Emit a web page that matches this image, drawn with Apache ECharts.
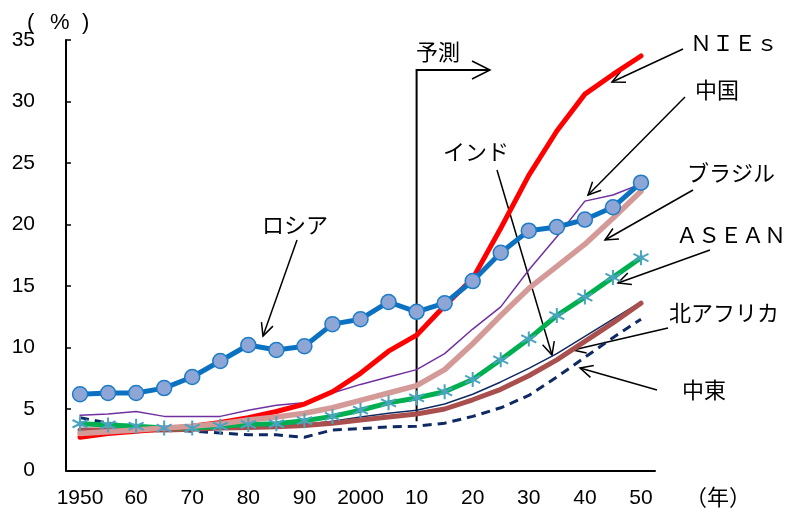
<!DOCTYPE html>
<html>
<head>
<meta charset="utf-8">
<script src="https://cdn.jsdelivr.net/npm/echarts@6/dist/echarts.min.js"></script>
<style>
  html, body { margin: 0; padding: 0; background: #fff; }
  #chart { width: 790px; height: 509px; }
</style>
</head>
<body>
<div id="chart"></div>
<script>
// Years on the category axis (5-year steps)
const years = ['1950','1955','1960','1965','1970','1975','1980','1985','1990','1995',
               '2000','2005','2010','2015','2020','2025','2030','2035','2040','2045','2050'];
// Short labels shown under every other year
const tickLabels = {'1950':'1950','1960':'60','1970':'70','1980':'80','1990':'90','2000':'2000',
                    '2010':'10','2020':'20','2030':'30','2040':'40','2050':'50'};

// Share of population aged 65+ (%)
const russia  = [6.2, 6.3, 6.3, 6.7, 7.6, 8.9, 10.2, 9.8, 10.1, 11.9, 12.3, 13.7, 12.9, 13.6, 15.4, 17.7, 19.5, 19.8, 20.4, 21.4, 23.4];
const nies    = [2.7, 3.0, 3.2, 3.4, 3.6, 3.9, 4.3, 4.8, 5.4, 6.4, 7.9, 9.7, 11.0, 13.4, 15.6, 19.7, 24.0, 27.6, 30.6, 32.2, 33.7];
const china   = [4.5, 4.6, 4.8, 4.4, 4.4, 4.4, 4.9, 5.3, 5.5, 6.3, 7.0, 7.6, 8.2, 9.5, 11.5, 13.3, 16.3, 19.0, 21.9, 22.4, 23.3];
const brazil  = [3.0, 3.15, 3.3, 3.45, 3.6, 3.8, 4.1, 4.35, 4.65, 5.1, 5.7, 6.3, 6.9, 8.2, 10.3, 12.6, 14.8, 16.6, 18.4, 20.5, 22.7];
const asean   = [3.8, 3.7, 3.6, 3.45, 3.45, 3.6, 3.75, 3.8, 4.05, 4.4, 4.9, 5.5, 5.9, 6.4, 7.4, 9.0, 10.7, 12.6, 14.1, 15.7, 17.3];
const india   = [3.4, 3.4, 3.3, 3.25, 3.3, 3.4, 3.5, 3.6, 3.75, 4.0, 4.35, 4.65, 4.9, 5.4, 6.2, 7.2, 8.3, 9.5, 10.9, 12.3, 13.7];
const nAfrica = [3.3, 3.3, 3.3, 3.3, 3.35, 3.45, 3.5, 3.55, 3.65, 3.85, 4.1, 4.35, 4.6, 5.0, 5.75, 6.6, 7.7, 9.0, 10.5, 12.0, 13.6];
const mideast = [4.3, 3.85, 3.55, 3.3, 3.2, 3.05, 2.9, 2.9, 2.7, 3.3, 3.4, 3.55, 3.6, 3.85, 4.4, 5.1, 6.1, 7.6, 9.2, 10.8, 12.3];

const chart = echarts.init(document.getElementById('chart'), null, { renderer: 'canvas' });

const NUM_FONT = '"Liberation Sans", Arial, sans-serif';
const JP_FONT = '"Noto Sans CJK JP", sans-serif';

// six-armed asterisk marker
const asterisk = 'path://M0,-10L0,10M-8.66,-5L8.66,5M-8.66,5L8.66,-5';

function line(name, data, color, width, extra) {
  return Object.assign({
    name, type: 'line', data,
    symbol: 'none',
    lineStyle: { color, width, cap: 'round', join: 'round' },
    itemStyle: { color },
    emphasis: { disabled: true },
    silent: true
  }, extra || {});
}

chart.setOption({
  animation: false,
  backgroundColor: '#fff',
  grid: { left: 66, right: 135, top: 40, bottom: 38.5, containLabel: false },
  xAxis: {
    type: 'category',
    data: years,
    boundaryGap: true,
    axisLine: { lineStyle: { color: '#000', width: 2 } },
    axisTick: { show: false },
    axisLabel: {
      interval: 1,
      margin: 17,
      color: '#000',
      fontSize: 21,
      fontFamily: NUM_FONT,
      formatter: v => tickLabels[v] || ''
    },
    splitLine: { show: false }
  },
  yAxis: {
    type: 'value',
    min: 0, max: 35, interval: 5,
    axisLine: { show: true, lineStyle: { color: '#000', width: 2 } },
    axisTick: { show: true, inside: true, length: 5, lineStyle: { color: '#000', width: 1.5 } },
    axisLabel: { color: '#000', fontSize: 21, fontFamily: NUM_FONT, margin: 31 },
    splitLine: { show: false }
  },
  series: [
    line('中東', mideast, '#0F2A63', 3, { lineStyle: { color: '#0F2A63', width: 3, type: [9, 6] } }),
    line('インド', india, '#0F2A63', 1.5),
    line('北アフリカ', nAfrica, '#A94F4D', 5),
    line('ASEAN', asean, '#00B050', 5, {
      symbol: asterisk, symbolSize: 15, showSymbol: true,
      itemStyle: { color: 'rgba(0,0,0,0)', borderColor: '#4BA3C3', borderWidth: 2 }
    }),
    line('中国', china, '#7030A0', 1.5),
    line('NIEs', nies, '#FF0000', 5),
    line('ブラジル', brazil, '#D49A97', 5.5),
    line('ロシア', russia, '#0B72C2', 5, {
      symbol: 'circle', symbolSize: 15, showSymbol: true,
      itemStyle: { color: '#8EA6D6', borderColor: '#1C7CC8', borderWidth: 1.5 }
    })
  ]
});

// ---- annotations ----
function txt(text, x, y, size, family, align) {
  return {
    type: 'text', x, y, silent: true,
    style: { text, fill: '#000', fontSize: size, fontFamily: family,
             align: align || 'left', verticalAlign: 'middle' }
  };
}
function arrow(x1, y1, x2, y2, len, spread) {
  const L = len || 14, t = spread || 0.45;
  const a = Math.atan2(y2 - y1, x2 - x1);
  return [
    { type: 'line', silent: true, shape: { x1, y1, x2, y2 },
      style: { stroke: '#000', lineWidth: 1.5 } },
    { type: 'polyline', silent: true,
      shape: { points: [[x2 - L * Math.cos(a - t), y2 - L * Math.sin(a - t)], [x2, y2],
                        [x2 - L * Math.cos(a + t), y2 - L * Math.sin(a + t)]] },
      style: { stroke: '#000', fill: null, lineWidth: 1.5 } }
  ];
}

// forecast marker starts at 2010
const fx = chart.convertToPixel({ xAxisIndex: 0 }, '2010');
const fy0 = chart.convertToPixel({ yAxisIndex: 0 }, 4);

const elements = [
  txt('(', 27, 23, 22, NUM_FONT),
  txt('%', 50, 23, 22, NUM_FONT),
  txt(')', 82, 23, 22, NUM_FONT),
  txt('（年）', 685, 497, 22, JP_FONT),
  txt('予測', 416, 52, 22, JP_FONT),
  { type: 'polyline', silent: true,
    shape: { points: [[fx, fy0], [fx, 70], [490, 70]] },
    style: { stroke: '#000', fill: null, lineWidth: 2 } },
  {
    type: 'polyline', silent: true,
    shape: { points: [[472, 61], [490, 70], [472, 79]] },
    style: { stroke: '#000', fill: null, lineWidth: 1.5 }
  },
  txt('ＮＩＥｓ', 690, 43, 22, JP_FONT),
  ...arrow(683, 49, 612, 82),
  txt('中国', 695, 90, 22, JP_FONT),
  ...arrow(685, 97, 588, 195),
  txt('インド', 443, 152, 22, JP_FONT),
  ...arrow(497, 170, 552, 355),
  txt('ブラジル', 687, 173, 22, JP_FONT),
  ...arrow(693, 190, 605, 240),
  txt('ＡＳＥＡＮ', 676, 235, 22, JP_FONT),
  ...arrow(710, 250, 618, 283),
  txt('北アフリカ', 669, 313, 22, JP_FONT),
  ...arrow(668, 328, 573, 350),
  txt('中東', 682, 390, 22, JP_FONT),
  ...arrow(657, 390, 580, 368),
  txt('ロシア', 262, 225, 22, JP_FONT),
  ...arrow(297, 240, 263, 336)
];

chart.setOption({ graphic: { elements } });
</script>
</body>
</html>
